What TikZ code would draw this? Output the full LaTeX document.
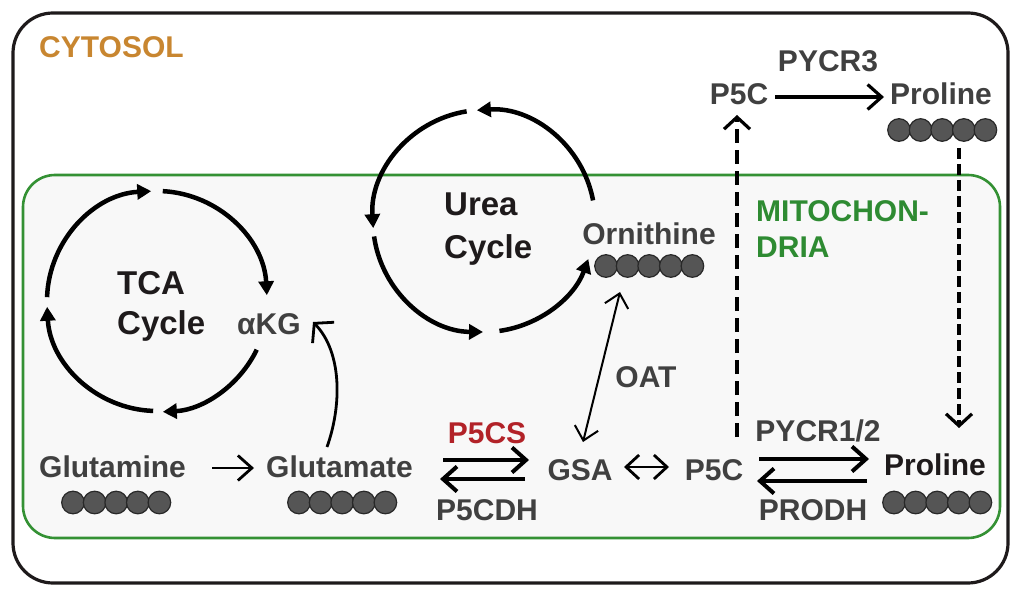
\documentclass[tikz,border=0pt]{standalone}
\usepackage{fontspec}
\setmainfont{Liberation Sans}
\usetikzlibrary{arrows.meta}
\definecolor{txtgray}{RGB}{64,64,64}
\definecolor{dark}{RGB}{30,26,27}
\definecolor{pred}{RGB}{178,34,40}
\definecolor{mgreen}{RGB}{46,139,50}
\definecolor{bgreen}{RGB}{52,145,52}
\definecolor{corange}{RGB}{200,134,48}
\definecolor{mfill}{RGB}{248,248,248}
\definecolor{ballfill}{RGB}{85,85,85}
\definecolor{ballline}{RGB}{40,40,40}
\begin{document}
\begin{tikzpicture}[x=1pt,y=1pt,
  lbl/.style={inner sep=0pt, font=\fontsize{30}{32}\selectfont\bfseries, text=txtgray},
  biglbl/.style={inner sep=0pt, font=\fontsize{33}{35}\selectfont\bfseries, text=dark, align=left},
  cyc/.style={line width=4.5pt, draw=black, -{Triangle[length=14pt,width=15pt]}},
  barb/.style={line width=3.2pt, draw=black, -{Straight Barb[length=14pt,width=25pt]}},
  eqarrow/.style={line width=4pt, draw=black, -{Straight Barb[length=14pt,width=25pt]}},
  thinarr/.style={line width=2pt, draw=black, {Straight Barb[length=13pt,width=24pt]}-{Straight Barb[length=13pt,width=24pt]}},
  dasharr/.style={line width=3.2pt, draw=black, -{Straight Barb[length=12pt,width=26pt]}},
  ball/.style={fill=ballfill, draw=ballline, line width=1.2pt},
  balls/.pic={\foreach \i in {0,...,4} \draw[ball] (\i*21.6,0) circle[radius=11.3];}
]
\useasboundingbox (0,0) rectangle (1019,595);
% compartments
\draw[line width=3.2pt, draw=dark, rounded corners=40pt] (13,12) rectangle (1008,582);
\draw[line width=2.6pt, draw=bgreen, fill=mfill, rounded corners=32pt] (23,57) rectangle (1000,420);

% compartment labels
\node[lbl, text=corange, anchor=base west] (cyto) at (39,537) {CYTOSOL};
\node[lbl, text=mgreen, anchor=base west] (mito1) at (756,373) {MITOCHON-};
\node[lbl, text=mgreen, anchor=base west] (mito2) at (756,337) {DRIA};

% cytosol proline branch
\node[lbl, anchor=base] (p5ctop) at (739,490) {P5C};
\node[lbl, anchor=base] (pycr3) at (828,523) {PYCR3};
\node[lbl, anchor=base] (protop) at (941,490) {Proline};
\pic at (899,465) {balls};
\coordinate (a1) at (775,498);
\coordinate (a2) at (884,498);
\draw[barb] (a1) -- (a2);

% TCA cycle
\coordinate (tcac) at (157,294);
\draw[cyc] ([shift={(178:110)}]tcac) arc[start angle=178, end angle=93, radius=110];
\draw[cyc] ([shift={(87:110)}]tcac) arc[start angle=87, end angle=3, radius=110];
\draw[cyc] ([shift={(-26:111)}]tcac) arc[start angle=-26, end angle=-87, radius=111];
\draw[cyc] ([shift={(-92:110)}]tcac) arc[start angle=-92, end angle=-177, radius=110];
\node[biglbl, anchor=base west] (tca1) at (117,300) {TCA};
\node[biglbl, anchor=base west] (tca2) at (117,261) {Cycle};
\node[lbl, anchor=base west] (akg) at (237,261) {αKG};

% Urea cycle
\coordinate (ureac) at (484,374);
\draw[cyc] ([shift={(10.7:111)}]ureac) arc[start angle=10.7, end angle=93.7, radius=111];
\draw[cyc] ([shift={(99:111)}]ureac) arc[start angle=99, end angle=183.7, radius=111];
\draw[cyc] ([shift={(188:111)}]ureac) arc[start angle=188, end angle=269.5, radius=111];
\draw[cyc] ([shift={(278:111)}]ureac) arc[start angle=278, end angle=340, radius=111];
\node[biglbl, anchor=base west] (urea1) at (444,379) {Urea};
\node[biglbl, anchor=base west] (urea2) at (444,336) {Cycle};
\node[lbl, anchor=base] (orn) at (649,350) {Ornithine};
\pic at (606,329) {balls};

% bottom row
\node[lbl, anchor=base west] (gln) at (39,118) {Glutamine};
\pic at (73,92.5) {balls};
\node[lbl, anchor=base west] (glu) at (266,118) {Glutamate};
\pic at (299,92.5) {balls};
\node[lbl, anchor=base] (gsa) at (580,115) {GSA};
\node[lbl, anchor=base] (p5c) at (714,115) {P5C};
\node[lbl, text=dark, anchor=base west] (pro) at (884,120) {Proline};
\pic at (894,92.5) {balls};

\node[lbl, text=pred, anchor=base] (p5cs) at (487,152) {P5CS};
\node[lbl, anchor=base] (p5cdh) at (487,75) {P5CDH};
\node[lbl, anchor=base] (oat) at (646,208) {OAT};
\node[lbl, anchor=base] (pycr12) at (818,154) {PYCR1/2};
\node[lbl, anchor=base] (prodh) at (813,75) {PRODH};

% arrows
\coordinate (g1) at (212,127);
\coordinate (g2) at (254,127);
\draw[barb, line width=2.8pt] (g1) -- (g2);

\coordinate (k1) at (327,148);
\coordinate (k2) at (313,273);
\draw[line width=2.8pt, -{Straight Barb[length=13pt,width=30pt]}] (k1) .. controls (342,190) and (342,243) .. (k2);

\coordinate (e1) at (443,135);
\coordinate (e2) at (529,135);
\coordinate (e3) at (525,116);
\coordinate (e4) at (440,116);
\draw[eqarrow] (e1) -- (e2);
\draw[eqarrow] (e3) -- (e4);

\coordinate (f1) at (759,136);
\coordinate (f2) at (869,136);
\coordinate (f3) at (867,114);
\coordinate (f4) at (757,114);
\draw[eqarrow] (f1) -- (f2);
\draw[eqarrow] (f3) -- (f4);

\coordinate (h1) at (624,128);
\coordinate (h2) at (669,128);
\draw[thinarr, line width=2.8pt] (h1) -- (h2);

\coordinate (o1) at (583,153);
\coordinate (o2) at (620,303);
\draw[thinarr] (o1) -- (o2);

\coordinate (d1) at (737,158);
\coordinate (d2) at (737,480);
\draw[dasharr, dash pattern=on 14pt off 7pt] (d1) -- (d2);

\coordinate (d3) at (959,447);
\coordinate (d4) at (959,167);
\draw[dasharr, dash pattern=on 11pt off 5pt] (d3) -- (d4);
\end{tikzpicture}
\end{document}
